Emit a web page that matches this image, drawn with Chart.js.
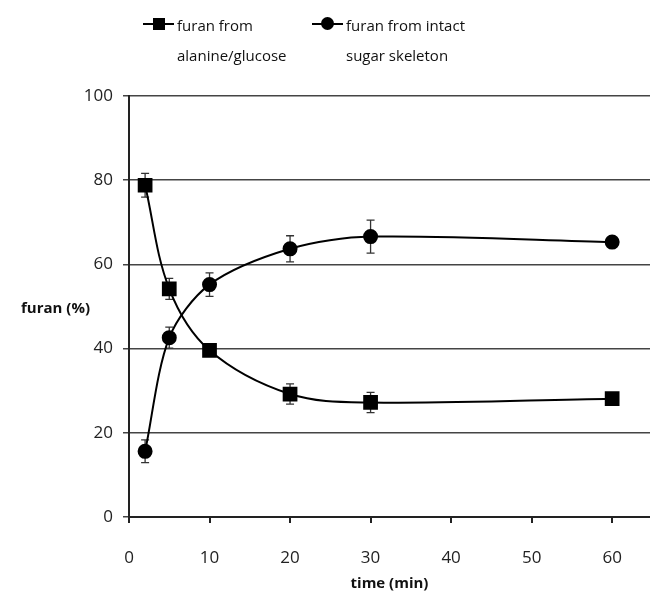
<!DOCTYPE html>
<html>
<head>
<meta charset="utf-8">
<script src="https://cdn.jsdelivr.net/npm/chart.js@4"></script>
<style>
  html, body { margin: 0; padding: 0; background: #fff; }
  #wrap { position: relative; width: 650px; height: 595px; }
  .legend { position: absolute; top: 10px; font-family: "Open Sans", sans-serif; font-size: 15px; color: #111; line-height: 30px; }
  .legend .mark { position: absolute; left: 0; top: 13px; width: 31px; height: 2px; background: #000; }
  .legend .sq { position: absolute; left: 10px; top: -5px; width: 12px; height: 12px; background: #000; }
  .legend .dot { position: absolute; left: 9px; top: -6px; width: 13px; height: 13px; border-radius: 50%; background: #000; }
  .legend .txt { margin-left: 34px; }
</style>
</head>
<body>
<div id="wrap">
  <canvas id="furanChart" width="650" height="595"></canvas>
  <div class="legend" style="left:143px"><div class="mark"><div class="sq"></div></div><div class="txt">furan from<br>alanine/glucose</div></div>
  <div class="legend" style="left:312px"><div class="mark"><div class="dot"></div></div><div class="txt">furan from intact<br>sugar skeleton</div></div>
</div>
<script>
const times = [2, 5, 10, 20, 30, 60];
const glucoseFuran = [78.8, 54.2, 39.6, 29.2, 27.2, 28.1];
const glucoseErr = [2.8, 2.5, 1.0, 2.4, 2.4, 1.0];
const sugarFuran = [15.6, 42.6, 55.2, 63.7, 66.6, 65.3];
const sugarErr = [2.7, 2.5, 2.8, 3.1, 3.9, 1.0];
const xTicks = [0, 10, 20, 30, 40, 50, 60];

const errorBars = {
  id: "errorBars",
  beforeDatasetsDraw(chart) {
    const ctx = chart.ctx;
    const y = chart.scales.y;
    const errs = [glucoseErr, sugarErr];
    ctx.save();
    ctx.strokeStyle = "#333";
    ctx.lineWidth = 1.3;
    chart.data.datasets.forEach((ds, i) => {
      chart.getDatasetMeta(i).data.forEach((pt, j) => {
        const v = ds.data[j].y;
        const top = y.getPixelForValue(v + errs[i][j]);
        const bot = y.getPixelForValue(v - errs[i][j]);
        ctx.beginPath();
        ctx.moveTo(pt.x, top); ctx.lineTo(pt.x, bot);
        ctx.moveTo(pt.x - 4, top); ctx.lineTo(pt.x + 4, top);
        ctx.moveTo(pt.x - 4, bot); ctx.lineTo(pt.x + 4, bot);
        ctx.stroke();
      });
    });
    ctx.restore();
  },
  afterDraw(chart) {
    const ctx = chart.ctx;
    ctx.save();
    ctx.font = "bold 15px 'Open Sans', sans-serif";
    ctx.fillStyle = "#111";
    ctx.textBaseline = "middle";
    ctx.fillText("furan (%)", 21, chart.scales.y.getPixelForValue(50) + 2);
    ctx.restore();
  },
};

new Chart(document.getElementById("furanChart"), {
  type: "line",
  data: {
    datasets: [
      {
        label: "furan from alanine/glucose",
        data: times.map((t, i) => ({ x: t, y: glucoseFuran[i] })),
        borderColor: "#000",
        backgroundColor: "#000",
        borderWidth: 2,
        pointStyle: "rect",
        pointRadius: 9,
        tension: 0.35,
      },
      {
        label: "furan from intact sugar skeleton",
        data: times.map((t, i) => ({ x: t, y: sugarFuran[i] })),
        borderColor: "#000",
        backgroundColor: "#000",
        borderWidth: 2,
        pointStyle: "circle",
        pointRadius: 6.5,
        tension: 0.3,
      },
    ],
  },
  options: {
    responsive: false,
    animation: false,
    layout: { autoPadding: false, padding: { top: 96, right: 0, bottom: 0, left: 0 } },
    plugins: { legend: { display: false }, tooltip: { enabled: false } },
    scales: {
      x: {
        type: "linear",
        min: 0,
        max: 64.7,
        afterBuildTicks: (s) => { s.ticks = xTicks.map((v) => ({ value: v })); },
        afterFit: (s) => { s.height = 78; s.paddingLeft = 0; s.paddingRight = 0; },
        border: { color: "#222", width: 2 },
        grid: { drawOnChartArea: false, drawTicks: true, tickLength: 6, color: "#222", lineWidth: 2 },
        ticks: { color: "#222", padding: 25, font: { family: "Open Sans", size: 17 } },
        title: { display: true, text: "time (min)", color: "#111", padding: { top: 0, bottom: 2 }, font: { family: "Open Sans", size: 15, weight: "bold" } },
      },
      y: {
        min: 0,
        max: 100,
        afterFit: (s) => { s.width = 129; },
        border: { color: "#222", width: 2 },
        grid: { color: "#444", lineWidth: 1.5, tickLength: 6 },
        ticks: { stepSize: 20, color: "#222", padding: 10, font: { family: "Open Sans", size: 17 } },
      },
    },
  },
  plugins: [errorBars],
});
</script>
</body>
</html>
